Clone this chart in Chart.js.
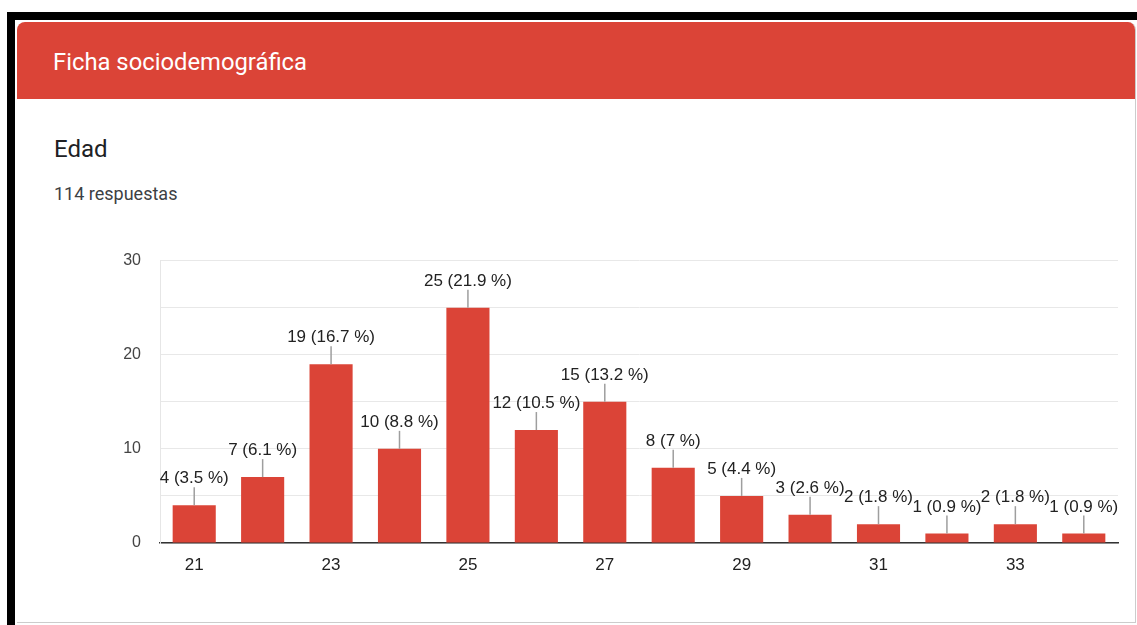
<!DOCTYPE html>
<html>
<head>
<meta charset="utf-8">
<script src="https://cdn.jsdelivr.net/npm/chart.js@4.4.1/dist/chart.umd.min.js"></script>
<style>
  body { margin: 0; width: 1137px; height: 625px; background: #fff; position: relative; overflow: hidden; font-family: Roboto, "Liberation Sans", Arial, sans-serif; }
  .frame-top { position: absolute; left: 7px; top: 12px; width: 1130px; height: 8px; background: #000; }
  .frame-left { position: absolute; left: 7px; top: 12px; width: 8px; height: 613px; background: #000; }
  .card { position: absolute; left: 17px; top: 22px; width: 1118px; height: 600px; background: #fff; border-right: 1px solid #ccc; border-bottom: 1px solid #ccc; border-radius: 8px 8px 0 0; overflow: hidden; }
  .card-head { height: 77px; background: #db4437; color: #fff; font-size: 23.8px; line-height: 1; padding: 29px 0 0 36px; box-sizing: border-box; }
  .q-title { position: absolute; left: 54px; top: 135px; font-size: 24px; color: #202124; }
  .q-count { position: absolute; left: 54px; top: 183px; font-size: 18px; color: #3c4043; }
  .chart-box { position: absolute; left: 100px; top: 232px; width: 1030px; height: 368px; }
</style>
</head>
<body>
<div class="frame-top"></div>
<div class="frame-left"></div>
<div class="card"><div class="card-head">Ficha sociodemográfica</div></div>
<div class="q-title">Edad</div>
<div class="q-count">114 respuestas</div>
<div class="chart-box"><canvas id="edadChart"></canvas></div>

<script>
// data
const ages = ["21", "22", "23", "24", "25", "26", "27", "28", "29", "30", "31", "32", "33", "34"];
const counts = [4, 7, 19, 10, 25, 12, 15, 8, 5, 3, 2, 1, 2, 1];
const percents = ["3.5", "6.1", "16.7", "8.8", "21.9", "10.5", "13.2", "7", "4.4", "2.6", "1.8", "0.9", "1.8", "0.9"];
const yTicks = [0, 10, 20, 30];

// labels with a small leader line above each bar
const barLabels = {
  id: "barLabels",
  afterDatasetsDraw(chart) {
    const c = chart.ctx;
    const meta = chart.getDatasetMeta(0);
    c.save();
    c.font = '17px "Liberation Sans", Arial, sans-serif';
    c.textAlign = "center";
    c.textBaseline = "alphabetic";
    meta.data.forEach((bar, i) => {
      c.strokeStyle = "#9e9e9e";
      c.lineWidth = 1.5;
      c.beginPath();
      c.moveTo(bar.x, bar.y);
      c.lineTo(bar.x, bar.y - 18);
      c.stroke();
      c.fillStyle = "#222";
      c.fillText(`${counts[i]} (${percents[i]} %)`, bar.x, bar.y - 22);
    });
    c.restore();
  },
};

const ctx = document.getElementById("edadChart");

new Chart(ctx, {
  type: "bar",
  data: {
    labels: ages,
    datasets: [
      {
        data: counts,
        backgroundColor: "#db4437",
        borderWidth: 0,
        barPercentage: 0.63,
        categoryPercentage: 1,
      },
    ],
  },
  options: {
    responsive: true,
    maintainAspectRatio: false,
    animation: false,
    layout: { padding: { top: 12, right: 12, left: 0, bottom: 0 } },
    scales: {
      x: {
        grid: { display: false, drawTicks: false },
        border: { display: true, color: "#333", width: 1.5 },
        ticks: {
          autoSkip: false,
          maxRotation: 0,
          padding: 12,
          color: "#222",
          font: { family: '"Liberation Sans", Arial, sans-serif', size: 17 },
          callback: function (value, index) {
            return index % 2 === 0 ? ages[index] : "";
          },
        },
        afterFit: function (scale) {
          scale.height = 57;
        },
      },
      y: {
        min: 0,
        max: 30,
        grid: { color: "#e8e8e8", drawTicks: false },
        border: { display: true, color: "#e6e6e6" },
        ticks: {
          stepSize: 5,
          padding: 19,
          color: "#444",
          font: { family: '"Liberation Sans", Arial, sans-serif', size: 16 },
          callback: function (value) {
            return yTicks.includes(value) ? value : "";
          },
        },
        afterFit: function (scale) {
          scale.width = 60;
        },
      },
    },
    plugins: {
      legend: { display: false },
      tooltip: { enabled: false },
    },
  },
  plugins: [barLabels],
});
</script>
</body>
</html>
